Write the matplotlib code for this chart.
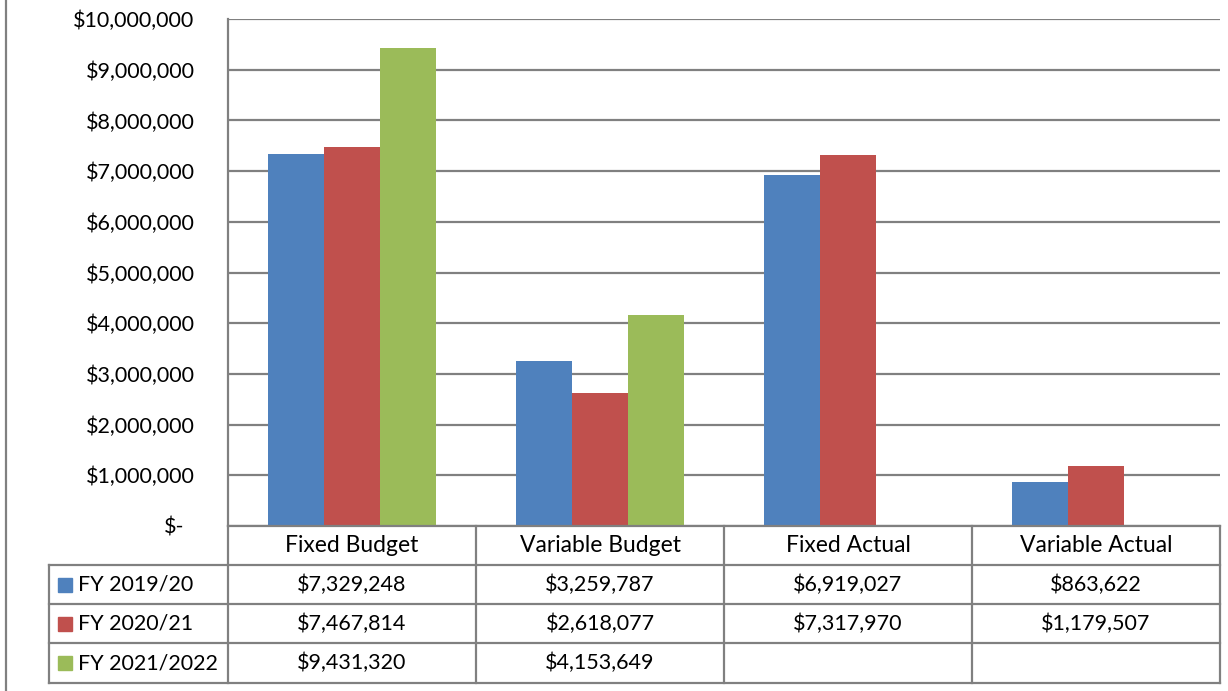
import matplotlib
matplotlib.use("Agg")
import matplotlib.pyplot as plt
import matplotlib.transforms as mtransforms
import numpy as np

plt.rcParams['font.family'] = ['Lato', 'DejaVu Sans']

categories = ["Fixed Budget", "Variable Budget", "Fixed Actual", "Variable Actual"]
series_names = ["FY 2019/20", "FY 2020/21", "FY 2021/2022"]
fy2019 = [7329248, 3259787, 6919027, 863622]
fy2020 = [7467814, 2618077, 7317970, 1179507]
fy2021 = [9431320, 4153649, None, None]
colors = ["#4F81BD", "#C0504D", "#9BBB59"]
yticks = np.arange(0, 10000001, 1000000)

series = [fy2019, fy2020, fy2021]
W, H = 1228, 691
grid_col = "#808080"
fs = 15.5

fig = plt.figure(figsize=(W / 100, H / 100), dpi=100)

# plot area in pixel terms
left, right, top, bottom = 228, 1220, 19, 526
ax = fig.add_axes([left / W, 1 - bottom / H, (right - left) / W, (bottom - top) / H])

x = np.arange(len(categories))
bw = 0.227
for j, (vals, col) in enumerate(zip(series, colors)):
    v = [np.nan if a is None else a for a in vals]
    ax.bar(x + (j - 1) * bw, v, bw, color=col, zorder=3)

ax.set_xlim(-0.5, len(categories) - 0.5)
ax.set_ylim(0, 10000000)
ax.set_yticks(yticks)
labels = ["$" + format(int(t), ",") if t > 0 else "$-" for t in yticks]
ax.set_yticklabels(labels, fontsize=fs)
ax.tick_params(axis='y', length=0, pad=24)
# excel puts the "$-" a bit further in
zero_lab = ax.get_yticklabels()[0]
zero_lab.set_transform(zero_lab.get_transform() +
                       mtransforms.ScaledTranslation(-0.10, 0, fig.dpi_scale_trans))
ax.set_xticks([])
ax.grid(axis='y', color=grid_col, linewidth=1.6, zorder=0)
for s in ["top", "right", "bottom"]:
    ax.spines[s].set_visible(False)
ax.spines["left"].set_color(grid_col)
ax.spines["left"].set_linewidth(1.6)

# data table drawn below the plot area
tx = fig.add_axes([0, 0, 1, 1])
tx.set_xlim(0, W)
tx.set_ylim(H, 0)
tx.axis("off")

col_w = (right - left) / len(categories)
row_y = [526, 565, 604, 643, 683]
legend_left = 49
lw = 1.6

# header row
tx.plot([left, right], [row_y[0], row_y[0]], color=grid_col, lw=lw)
for i, cat in enumerate(categories):
    cx = left + col_w * (i + 0.5)
    tx.text(cx, (row_y[0] + row_y[1]) / 2, cat, ha="center", va="center", fontsize=16.5)
# horizontal lines
for y in row_y[1:]:
    tx.plot([legend_left, right], [y, y], color=grid_col, lw=lw)
# vertical lines
for i in range(len(categories) + 1):
    xx = left + col_w * i
    tx.plot([xx, xx], [row_y[0], row_y[-1]], color=grid_col, lw=lw)
tx.plot([legend_left, legend_left], [row_y[1], row_y[-1]], color=grid_col, lw=lw)

for r, (name, vals, col) in enumerate(zip(series_names, series, colors)):
    cy = (row_y[r + 1] + row_y[r + 2]) / 2
    tx.add_patch(plt.Rectangle((58, cy - 7), 14, 14, color=col))
    tx.text(78, cy, name, ha="left", va="center", fontsize=fs)
    for i, v in enumerate(vals):
        if v is None:
            continue
        cx = left + col_w * (i + 0.5)
        tx.text(cx, cy, "$" + format(v, ","), ha="center", va="center", fontsize=fs)

# chart border on the left
tx.plot([6, 6], [0, H], color=grid_col, lw=1.6)

fig.savefig("out.png", dpi=100)
